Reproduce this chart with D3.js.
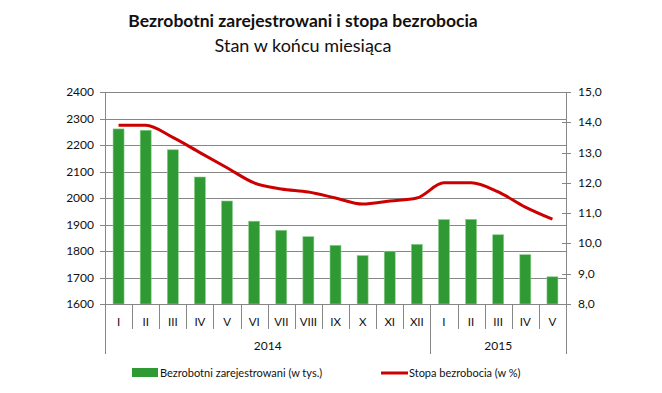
<!DOCTYPE html>
<html>
<head>
<meta charset="utf-8">
<script src="https://cdn.jsdelivr.net/npm/d3@7"></script>
<style>
	body { margin: 0; background: #fff; }
	svg text { font-family: Lato, "Open Sans", sans-serif; fill: #111; }
</style>
</head>
<body>
<svg width="662" height="393"></svg>
<script>
// dane
var months = ["I", "II", "III", "IV", "V", "VI", "VII", "VIII", "IX", "X", "XI", "XII", "I", "II", "III", "IV", "V"];
var years = [{ label: "2014", n: 12 }, { label: "2015", n: 5 }];
var unemployed = [2260.7, 2255.7, 2182.0, 2079.2, 1988.7, 1912.5, 1878.2, 1854.0, 1821.4, 1782.9, 1799.2, 1825.2, 1918.6, 1919.5, 1861.3, 1786.1, 1702.7];
var rate = [13.9, 13.9, 13.5, 13.0, 12.5, 12.0, 11.8, 11.7, 11.5, 11.3, 11.4, 11.5, 12.0, 12.0, 11.7, 11.2, 10.8];
var leftTicks = [1600, 1700, 1800, 1900, 2000, 2100, 2200, 2300, 2400];
var rightTicks = [8, 9, 10, 11, 12, 13, 14, 15];

var svg = d3.select("svg"),
	left = 105,
	right = 566,
	plotTop = 92,
	bottom = 304,
	gridColor = "#868686";

var step = (right - left) / months.length;
var cx = (i) => left + step * (i + 0.5);

var y = d3.scaleLinear().domain([1600, 2400]).range([bottom, plotTop]);
var y2 = d3.scaleLinear().domain([8, 15]).range([bottom, plotTop]);

// title
svg.append("text")
	.attr("x", 303)
	.attr("y", 27)
	.attr("text-anchor", "middle")
	.style("font-size", "17.5px")
	.style("font-weight", "bold")
	.text("Bezrobotni zarejestrowani i stopa bezrobocia");
svg.append("text")
	.attr("x", 303)
	.attr("y", 52)
	.attr("text-anchor", "middle")
	.style("font-size", "18px")
	.text("Stan w końcu miesiąca");

// gridlines
svg.append("g")
	.selectAll("line")
	.data(leftTicks)
	.enter()
	.append("line")
	.attr("x1", left - 5)
	.attr("x2", right)
	.attr("y1", (d) => Math.round(y(d)) + 0.5)
	.attr("y2", (d) => Math.round(y(d)) + 0.5)
	.attr("stroke", gridColor);

// left axis
svg.append("g")
	.selectAll("text")
	.data(leftTicks)
	.enter()
	.append("text")
	.attr("x", left - 11)
	.attr("y", (d) => y(d) + 4)
	.attr("text-anchor", "end")
	.style("font-size", "12px")
	.text((d) => d);

svg.append("line")
	.attr("x1", left + 0.5).attr("x2", left + 0.5)
	.attr("y1", plotTop).attr("y2", bottom)
	.attr("stroke", gridColor);

// right axis
svg.append("line")
	.attr("x1", right + 0.5).attr("x2", right + 0.5)
	.attr("y1", plotTop).attr("y2", bottom)
	.attr("stroke", gridColor);

svg.append("g")
	.selectAll("line")
	.data(rightTicks)
	.enter()
	.append("line")
	.attr("x1", right - 4)
	.attr("x2", right + 5)
	.attr("y1", (d) => Math.round(y2(d)) + 0.5)
	.attr("y2", (d) => Math.round(y2(d)) + 0.5)
	.attr("stroke", gridColor);

svg.append("g")
	.selectAll("text")
	.data(rightTicks)
	.enter()
	.append("text")
	.attr("x", right + 12)
	.attr("y", (d) => y2(d) + 4)
	.style("font-size", "12px")
	.text((d) => d3.format(".1f")(d).replace(".", ","));

// bars
svg.append("g")
	.selectAll("rect")
	.data(unemployed)
	.enter()
	.append("rect")
	.attr("x", (d, i) => cx(i) - 5.5)
	.attr("width", 11)
	.attr("y", (d) => y(d))
	.attr("height", (d) => bottom - y(d))
	.attr("fill", "#2f9a34")
	.attr("stroke", "#8fcf8f")
	.attr("stroke-width", 0.6);

// line
var line = d3.line()
	.x((d, i) => cx(i))
	.y((d) => y2(d))
	.curve(d3.curveMonotoneX);

svg.append("path")
	.datum(rate)
	.attr("d", line)
	.attr("fill", "none")
	.attr("stroke", "#cc0000")
	.attr("stroke-width", 3);

// bottom axis
svg.append("line")
	.attr("x1", left).attr("x2", right + 1)
	.attr("y1", bottom + 0.5).attr("y2", bottom + 0.5)
	.attr("stroke", gridColor);

svg.append("g")
	.selectAll("line")
	.data(d3.range(months.length + 1))
	.enter()
	.append("line")
	.attr("x1", (i) => Math.round(left + step * i) + 0.5)
	.attr("x2", (i) => Math.round(left + step * i) + 0.5)
	.attr("y1", bottom)
	.attr("y2", 329)
	.attr("stroke", gridColor);

svg.append("g")
	.selectAll("text")
	.data(months)
	.enter()
	.append("text")
	.attr("x", (d, i) => cx(i))
	.attr("y", 326)
	.attr("text-anchor", "middle")
	.style("font-size", "11.5px")
	.text((d) => d);

// years
var pos = 0;
var yearEdges = [0];
years.forEach(function(yr) {
	yr.start = pos;
	pos += yr.n;
	yearEdges.push(pos);
});

svg.append("g")
	.selectAll("line")
	.data(yearEdges)
	.enter()
	.append("line")
	.attr("x1", (i) => Math.round(left + step * i) + 0.5)
	.attr("x2", (i) => Math.round(left + step * i) + 0.5)
	.attr("y1", 329)
	.attr("y2", 354)
	.attr("stroke", gridColor);

svg.append("g")
	.selectAll("text")
	.data(years)
	.enter()
	.append("text")
	.attr("x", (d) => left + step * (d.start + d.n / 2))
	.attr("y", 350)
	.attr("text-anchor", "middle")
	.style("font-size", "12px")
	.text((d) => d.label);

// legend
var legend = svg.append("g");
legend.append("rect")
	.attr("x", 132).attr("y", 368)
	.attr("width", 26).attr("height", 9)
	.attr("fill", "#2f9a34");
legend.append("text")
	.attr("x", 160).attr("y", 377)
	.style("font-size", "11px")
	.text("Bezrobotni zarejestrowani (w tys.)");
legend.append("line")
	.attr("x1", 381).attr("x2", 408)
	.attr("y1", 373).attr("y2", 373)
	.attr("stroke", "#cc0000")
	.attr("stroke-width", 3);
legend.append("text")
	.attr("x", 409).attr("y", 377)
	.style("font-size", "11px")
	.text("Stopa bezrobocia (w %)");
</script>
</body>
</html>
